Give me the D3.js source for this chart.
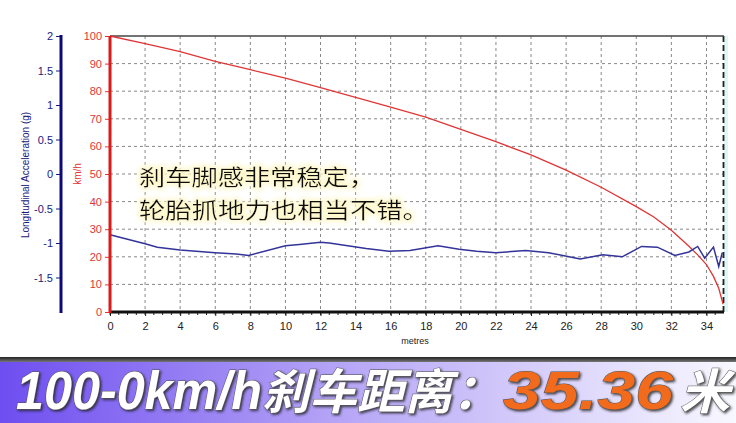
<!DOCTYPE html>
<html><head><meta charset="utf-8">
<script src="https://cdn.jsdelivr.net/npm/d3@7"></script>
<style>
html,body{margin:0;padding:0;background:#fff;}
svg{display:block;}
</style></head>
<body>
<svg id="chart" width="736" height="423"></svg>
<script>
// ---- data ----
const distTicks = [0,2,4,6,8,10,12,14,16,18,20,22,24,26,28,30,32,34];
const speedTicks = [0,10,20,30,40,50,60,70,80,90,100];
const accelTicks = [2,1.5,1,0.5,0,-0.5,-1,-1.5];
const accelTickLabels = ["2","1.5","1","0.5","0","-0.5","-1","-1.5"];
// speed (km/h) vs distance (m)
const speedDist = [0,2,4,6,8,10,12,14,16,18,20,22,24,26,28,30,31,32,33,33.5,34,34.4,34.7,34.95];
const speedVals = [100,97.2,94.3,90.8,87.8,84.7,81.3,77.8,74.2,70.6,66.2,61.7,56.9,51.4,45.2,38.2,34.4,29.6,23.8,20.7,17.2,12.9,8.6,2.8];
// longitudinal acceleration (g) vs distance (m)
const accDist = [0,2,2.7,4,6,7.2,7.9,10,10.8,12,12.5,14.6,15.9,17.1,18.7,19.9,20.9,22,23.7,25,26.8,28.1,29.2,30.3,31.2,32.2,33,33.5,33.9,34.4,34.7,34.9];
const accVals = [-0.88,-1.01,-1.06,-1.10,-1.14,-1.16,-1.18,-1.04,-1.02,-0.99,-1.00,-1.08,-1.12,-1.11,-1.04,-1.09,-1.12,-1.14,-1.11,-1.14,-1.23,-1.17,-1.20,-1.05,-1.06,-1.18,-1.13,-1.05,-1.22,-1.06,-1.34,-1.14];
const noteLines = ["刹车脚感非常稳定，","轮胎抓地力也相当不错。"];
const bannerParts = ["100-0km/h","刹车距离：","35.36","米"];

const svg = d3.select("#chart");
const defs = svg.append("defs");

// scales
const x = d3.scaleLinear().domain([0,35]).range([110,724]);
const yS = d3.scaleLinear().domain([0,100]).range([312,36]);
const yA = d3.scaleLinear().domain([-2,2]).range([312,36]);

// grid
const grid = svg.append("g");
grid.selectAll("line.h").data(speedTicks.filter(d=>d>0&&d<100)).enter().append("line")
  .attr("x1",110).attr("x2",724).attr("y1",d=>yS(d)).attr("y2",d=>yS(d))
  .attr("stroke","#888").attr("stroke-width",1).attr("stroke-dasharray","3,3");
grid.selectAll("line.v").data(distTicks.filter(d=>d>0)).enter().append("line")
  .attr("x1",d=>x(d)).attr("x2",d=>x(d)).attr("y1",36).attr("y2",312)
  .attr("stroke","#888").attr("stroke-width",1).attr("stroke-dasharray","3,3");

// right strip + dashed end line
svg.append("rect").attr("x",724).attr("y",36).attr("width",4).attr("height",276).attr("fill","#dff6f6");
svg.append("line").attr("x1",723.5).attr("x2",723.5).attr("y1",36).attr("y2",312)
  .attr("stroke","#222").attr("stroke-width",1.8).attr("stroke-dasharray","6,3");

// top border
svg.append("line").attr("x1",110).attr("x2",724).attr("y1",36).attr("y2",36).attr("stroke","#444").attr("stroke-width",1.5);

// text glow filter
const f = defs.append("filter").attr("id","glow").attr("x","-10%").attr("y","-30%").attr("width","120%").attr("height","160%");
f.append("feMorphology").attr("in","SourceAlpha").attr("operator","dilate").attr("radius",2).attr("result","d");
f.append("feGaussianBlur").attr("in","d").attr("stdDeviation",2.5).attr("result","b");
f.append("feFlood").attr("flood-color","#fff8cc").attr("result","c");
f.append("feComposite").attr("in","c").attr("in2","b").attr("operator","in").attr("result","g");
const fm = f.append("feMerge");
fm.append("feMergeNode").attr("in","g");
fm.append("feMergeNode").attr("in","SourceGraphic");

// note text
const noteW = [236, 290];
svg.append("g").attr("filter","url(#glow)").selectAll("text").data(noteLines).enter().append("text")
  .attr("x",139).attr("y",(d,i)=>185+i*32.5)
  .attr("font-family","'Noto Sans CJK SC', sans-serif").attr("font-size",22)
  .attr("textLength",(d,i)=>noteW[i]).attr("lengthAdjust","spacingAndGlyphs")
  .attr("fill","#111").text(d=>d);

// lines
const lineS = d3.line().x((d,i)=>x(speedDist[i])).y(d=>yS(d));
svg.append("path").datum(speedVals).attr("d",lineS).attr("fill","none").attr("stroke","#e03535").attr("stroke-width",1.3);
const lineA = d3.line().x((d,i)=>x(accDist[i])).y(d=>yA(d));
svg.append("path").datum(accVals).attr("d",lineA).attr("fill","none").attr("stroke","#333399").attr("stroke-width",1.5);

// x axis
const xAxis = svg.append("g").attr("transform","translate(0,312)")
  .call(d3.axisBottom(x).tickValues(distTicks).tickSize(4).tickPadding(6).tickFormat(d3.format("d")));
xAxis.select(".domain").remove();
xAxis.selectAll("text").attr("font-family","Arial, 'Liberation Sans', sans-serif").attr("font-size",11).attr("fill","#222");
xAxis.selectAll("line").attr("stroke","#222");
svg.append("g").selectAll("line").data(d3.range(0,35,0.5)).enter().append("line")
  .attr("x1",d=>x(d)).attr("x2",d=>x(d)).attr("y1",312).attr("y2",315).attr("stroke","#222");
svg.append("line").attr("x1",110).attr("x2",724).attr("y1",312).attr("y2",312).attr("stroke","#111").attr("stroke-width",3);
svg.append("text").attr("x",415).attr("y",344).attr("text-anchor","middle")
  .attr("font-family","Arial, 'Liberation Sans', sans-serif").attr("font-size",9).attr("fill","#222").text("metres");

// speed axis (red)
const sAxis = svg.append("g").attr("transform","translate(110,0)")
  .call(d3.axisLeft(yS).tickValues(speedTicks).tickSize(5).tickPadding(3));
sAxis.select(".domain").remove();
sAxis.selectAll("line").attr("stroke","#e03535");
sAxis.selectAll("text").attr("font-family","Arial, 'Liberation Sans', sans-serif").attr("font-size",11).attr("fill","#e03535");
svg.append("line").attr("x1",110).attr("x2",110).attr("y1",36).attr("y2",313).attr("stroke","#dd1a1a").attr("stroke-width",3);
svg.append("text").attr("transform","translate(81,174) rotate(-90)").attr("text-anchor","middle")
  .attr("font-family","Arial, 'Liberation Sans', sans-serif").attr("font-size",10).attr("fill","#e03535").text("km/h");

// accel axis (blue)
const aAxis = svg.append("g").attr("transform","translate(61,0)")
  .call(d3.axisLeft(yA).tickValues(accelTicks).tickSize(5).tickPadding(3).tickFormat((d,i)=>accelTickLabels[i]));
aAxis.select(".domain").remove();
aAxis.selectAll("line").attr("stroke","#1a1a80");
aAxis.selectAll("text").attr("font-family","Arial, 'Liberation Sans', sans-serif").attr("font-size",11).attr("fill","#1a1a80");
svg.append("line").attr("x1",61).attr("x2",61).attr("y1",35).attr("y2",313).attr("stroke","#0a0a78").attr("stroke-width",3);
svg.append("text").attr("transform","translate(29,175) rotate(-90)").attr("text-anchor","middle")
  .attr("font-family","Arial, 'Liberation Sans', sans-serif").attr("font-size",10).attr("fill","#1a1a80").text("Longitudinal Acceleration (g)");

// banner
const bg = defs.append("linearGradient").attr("id","bgrad").attr("x1","0").attr("x2","1").attr("y1","0").attr("y2","0");
bg.append("stop").attr("offset","0").attr("stop-color","#6e4ef0");
bg.append("stop").attr("offset","0.45").attr("stop-color","#b4a3f6");
bg.append("stop").attr("offset","1").attr("stop-color","#f8f8ff");
const tg = defs.append("linearGradient").attr("id","tgrad").attr("x1","0").attr("x2","0").attr("y1","0").attr("y2","1");
tg.append("stop").attr("offset","0").attr("stop-color","#222");
tg.append("stop").attr("offset","1").attr("stop-color","#777");
svg.append("rect").attr("x",0).attr("y",357).attr("width",736).attr("height",5).attr("fill","url(#tgrad)");
svg.append("rect").attr("x",0).attr("y",362).attr("width",736).attr("height",61).attr("fill","url(#bgrad)");

const sh = defs.append("filter").attr("id","tshadow").attr("x","-5%").attr("y","-20%").attr("width","110%").attr("height","140%");
sh.append("feDropShadow").attr("dx",1.5).attr("dy",1.5).attr("stdDeviation",1).attr("flood-color","#222").attr("flood-opacity",0.8);

const partX = [16,262,503,680];
const partW = [246,238,170,50];
const partFill = ["#ffffff","#ffffff","#f26a1b","#ffffff"];
const bt = svg.append("g").attr("filter","url(#tshadow)");
bannerParts.forEach((t,i)=>{
  bt.append("text").attr("x",partX[i]).attr("y",409)
    .attr("font-family", i===0||i===2 ? "Arial, 'Liberation Sans', sans-serif" : "'Noto Sans CJK SC', sans-serif")
    .attr("font-weight","bold").attr("font-style","italic")
    .attr("font-size", i===0||i===2 ? 54 : 48)
    .attr("textLength",partW[i]).attr("lengthAdjust","spacingAndGlyphs")
    .attr("fill",partFill[i]).attr("stroke","#555").attr("stroke-width",1).attr("paint-order","stroke")
    .text(t);
});
</script>
</body></html>
